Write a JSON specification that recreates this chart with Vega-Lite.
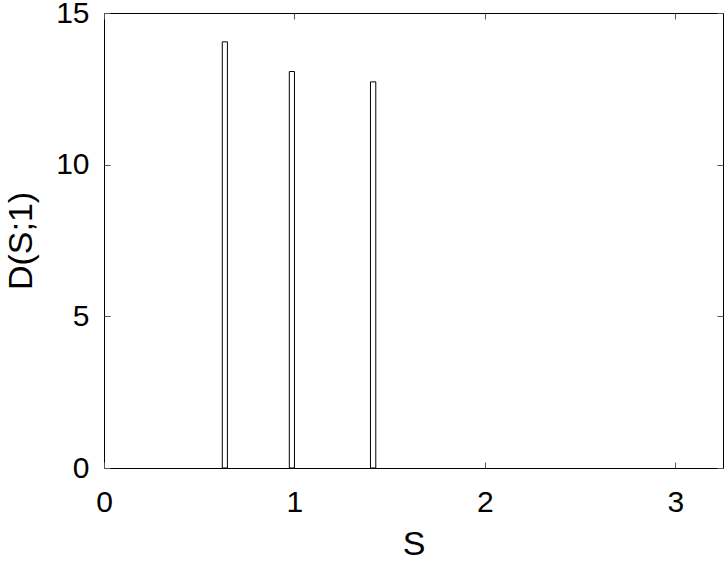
{
  "$schema": "https://vega.github.io/schema/vega-lite/v6.json",
  "width": 619,
  "height": 455,
  "autosize": {"type": "none"},
  "padding": {"left": 104, "top": 13, "right": 2, "bottom": 93},
  "background": "white",
  "config": {
    "view": {"stroke": "black", "strokeWidth": 1},
    "font": "Liberation Sans",
    "axis": {
      "domain": false,
      "grid": false,
      "tickColor": "#555555",
      "tickSize": -6,
      "labelFlush": false,
      "labelOverlap": false,
      "labelFont": "Liberation Sans",
      "labelFontSize": 30,
      "labelColor": "black",
      "titleFont": "Liberation Sans",
      "titleFontSize": 34,
      "titleFontWeight": "normal",
      "titleColor": "black"
    }
  },
  "data": {
    "values": [
      {"s0": 0.621, "s1": 0.648, "d": 14.05},
      {"s0": 0.973, "s1": 1.0, "d": 13.07},
      {"s0": 1.399, "s1": 1.427, "d": 12.73}
    ]
  },
  "layer": [
    {
      "mark": {"type": "rect", "fill": "white", "stroke": "black", "strokeWidth": 1},
      "encoding": {
        "x": {"field": "s0", "type": "quantitative", "scale": {"domain": [0, 3.25], "nice": false, "zero": false},
              "axis": {"orient": "bottom", "values": [0, 1, 2, 3], "title": "S", "labelPadding": 25, "titlePadding": 10}},
        "x2": {"field": "s1"},
        "y": {"field": "d", "type": "quantitative", "scale": {"domain": [0, 15], "nice": false},
              "axis": {"orient": "left", "values": [0, 5, 10, 15], "title": "D(S;1)", "labelPadding": 21, "titlePadding": 17}},
        "y2": {"datum": 0}
      }
    },
    {
      "mark": {"type": "rect", "opacity": 0},
      "encoding": {
        "x": {"field": "s0", "type": "quantitative",
              "axis": {"orient": "top", "values": [0, 1, 2, 3], "labels": false, "title": null}},
        "x2": {"field": "s1"},
        "y": {"field": "d", "type": "quantitative",
              "axis": {"orient": "right", "values": [0, 5, 10, 15], "labels": false, "title": null}},
        "y2": {"datum": 0}
      }
    }
  ],
  "resolve": {"axis": {"x": "independent", "y": "independent"}}
}
